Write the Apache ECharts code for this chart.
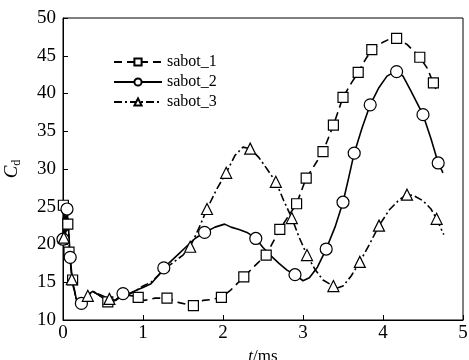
<!DOCTYPE html>
<html><head><meta charset="utf-8">
<script src="https://cdn.jsdelivr.net/npm/echarts@6/dist/echarts.min.js"></script>
<style>html,body{margin:0;padding:0;background:#fff}#c{width:469px;height:360px}</style>
</head><body><div id="c"></div>
<script>
const seriesNames = ['sabot_1', 'sabot_2', 'sabot_3'];
const xTicks = [0, 1, 2, 3, 4, 5];
const yTicks = [10, 15, 20, 25, 30, 35, 40, 45, 50];

// sabot_1 : curve points (t ms, Cd) and marker points
const s1Curve = [[0,20.8],[0.02,21.0],[0.04,24.5],[0.16,13.0],[0.2,12.0],[0.25,12.3],[0.3,13.3],[0.37,13.8],[0.45,13.3],[0.65,12.6],[0.72,13.2],[0.8,13.3],[0.87,13.2],[1.02,12.6],[1.15,12.9],[1.45,12.3],[1.75,12.6],[1.85,12.7],[2.1,14.0],[2.4,17.2],[2.62,20.2],[2.82,23.8],[3.15,30.6],[3.6,41.3],[3.78,44.5],[4.0,46.8],[4.08,47.2],[4.3,46.5],[4.55,43.4],[4.66,40.6]];
const s1Marks = [[0.005,25.2],[0.06,22.7],[0.075,19.0],[0.12,15.3],[0.56,12.4],[0.94,13.0],[1.3,12.9],[1.63,11.9],[1.98,13.0],[2.26,15.7],[2.54,18.6],[2.71,22.0],[2.92,25.4],[3.04,28.8],[3.25,32.3],[3.38,35.8],[3.5,39.5],[3.69,42.8],[3.86,45.8],[4.17,47.3],[4.46,44.8],[4.63,41.4]];

// sabot_2
const s2Curve = [[0.01,25.0],[0.03,21.0],[0.07,22.0],[0.12,15.0],[0.17,12.6],[0.3,13.3],[0.37,13.8],[0.45,13.3],[0.55,12.5],[0.62,12.4],[0.68,12.8],[0.85,13.6],[0.93,14.0],[1.0,14.3],[1.1,14.8],[1.2,16.0],[1.35,17.8],[1.45,18.8],[1.55,19.8],[1.65,20.8],[1.9,22.3],[2.02,22.7],[2.1,22.3],[2.2,22.0],[2.3,21.6],[2.5,19.6],[2.6,18.5],[2.7,17.5],[2.8,16.6],[3.0,15.2],[3.08,15.6],[3.18,17.0],[3.4,22.3],[3.57,28.8],[3.74,35.5],[3.95,40.8],[4.05,42.3],[4.1,42.6],[4.13,42.4],[4.25,42.3],[4.35,40.3],[4.6,34.0],[4.75,29.5]];
const s2Marks = [[0.0,20.7],[0.05,24.7],[0.09,18.3],[0.23,12.2],[0.75,13.5],[1.26,16.9],[1.77,21.6],[2.41,20.8],[2.9,16.0],[3.29,19.4],[3.5,25.6],[3.64,32.1],[3.84,38.5],[4.17,42.9],[4.5,37.2],[4.69,30.8]];

// sabot_3
const s3Curve = [[0.02,25.0],[0.04,21.5],[0.06,24.0],[0.08,19.5],[0.16,12.9],[0.21,12.1],[0.37,13.8],[0.45,13.4],[0.66,12.6],[0.73,13.2],[0.8,13.3],[0.9,13.8],[1.0,14.5],[1.1,15.0],[1.2,16.0],[1.3,17.0],[1.4,17.8],[1.5,18.6],[1.7,22.2],[1.92,27.3],[2.15,31.8],[2.25,32.9],[2.45,31.5],[2.55,30.0],[2.76,25.8],[2.95,21.0],[3.15,16.7],[3.25,15.3],[3.42,14.2],[3.5,14.5],[3.6,15.8],[3.83,20.0],[4.08,24.6],[4.2,25.9],[4.38,26.5],[4.5,25.8],[4.6,24.7],[4.76,21.3]];
const s3Marks = [[0.01,20.9],[0.11,15.4],[0.31,13.2],[0.58,12.8],[1.59,19.7],[1.8,24.7],[2.04,29.5],[2.34,32.7],[2.66,28.3],[2.86,23.5],[3.05,18.6],[3.38,14.5],[3.71,17.7],[3.95,22.5],[4.3,26.6],[4.67,23.4]];

function build(curve, marks) {
  const items = curve.map(p => ({ value: p, symbol: 'none' }))
    .concat(marks.map(p => ({ value: p })));
  items.sort((a, b) => a.value[0] - b.value[0]);
  return items;
}

const serif = 'Liberation Serif, Times New Roman, serif';
const chart = echarts.init(document.getElementById('c'), null, { renderer: 'canvas' });

function mkSeries(name, curve, marks, symbol, size, dash) {
  return {
    name: name, type: 'line', data: build(curve, marks),
    symbol: symbol, symbolSize: size, showSymbol: true, smooth: false,
    animation: false,
    lineStyle: { color: '#000', width: 1.6, type: dash },
    itemStyle: { color: '#fff', borderColor: '#000', borderWidth: 1.2, opacity: 1 },
    emphasis: { disabled: true }
  };
}

chart.setOption({
  animation: false,
  backgroundColor: '#fff',
  grid: { left: 63, right: 6, top: 18, bottom: 40, containLabel: false, outerBoundsMode: 'none', show: true, borderColor: '#000', borderWidth: 1, backgroundColor: 'transparent' },
  legend: {
    data: seriesNames,
    orient: 'vertical', left: 108, top: 49, itemGap: 4,
    itemWidth: 48, itemHeight: 9,
    textStyle: { fontFamily: serif, fontSize: 16, color: '#000' }
  },
  xAxis: {
    type: 'value', min: xTicks[0], max: xTicks[xTicks.length - 1], interval: 1,
    name: '{i|t}/ms', nameLocation: 'middle', nameGap: 28,
    nameTextStyle: { fontFamily: serif, fontSize: 17, color: '#000', rich: { i: { fontFamily: serif, fontStyle: 'italic', fontSize: 17 } } },
    axisLine: { lineStyle: { color: '#000', width: 1 } },
    axisTick: { inside: true, length: 5, lineStyle: { color: '#000' } },
    axisLabel: { fontFamily: serif, fontSize: 19, color: '#000', margin: 4 },
    splitLine: { show: false }
  },
  yAxis: {
    type: 'value', min: yTicks[0], max: yTicks[yTicks.length - 1], interval: 5,
    name: '{c|C}{d|d}', nameLocation: 'middle', nameGap: 40, nameRotate: 90,
    nameTextStyle: { fontFamily: serif, color: '#000', rich: { c: { fontFamily: serif, fontStyle: 'italic', fontSize: 19 }, d: { fontFamily: serif, fontSize: 12, padding: [10, 0, 0, 0] } } },
    axisLine: { lineStyle: { color: '#000', width: 1 } },
    axisTick: { inside: true, length: 5, lineStyle: { color: '#000' } },
    axisLabel: { fontFamily: serif, fontSize: 19, color: '#000', margin: 7 },
    splitLine: { show: false }
  },
  series: [
    mkSeries(seriesNames[0], s1Curve, s1Marks, 'rect', 10, [8, 5]),
    mkSeries(seriesNames[1], s2Curve, s2Marks, 'circle', 12, 'solid'),
    mkSeries(seriesNames[2], s3Curve, s3Marks, 'triangle', 11, [8, 3, 2, 3])
  ]
});
</script>
</body></html>
